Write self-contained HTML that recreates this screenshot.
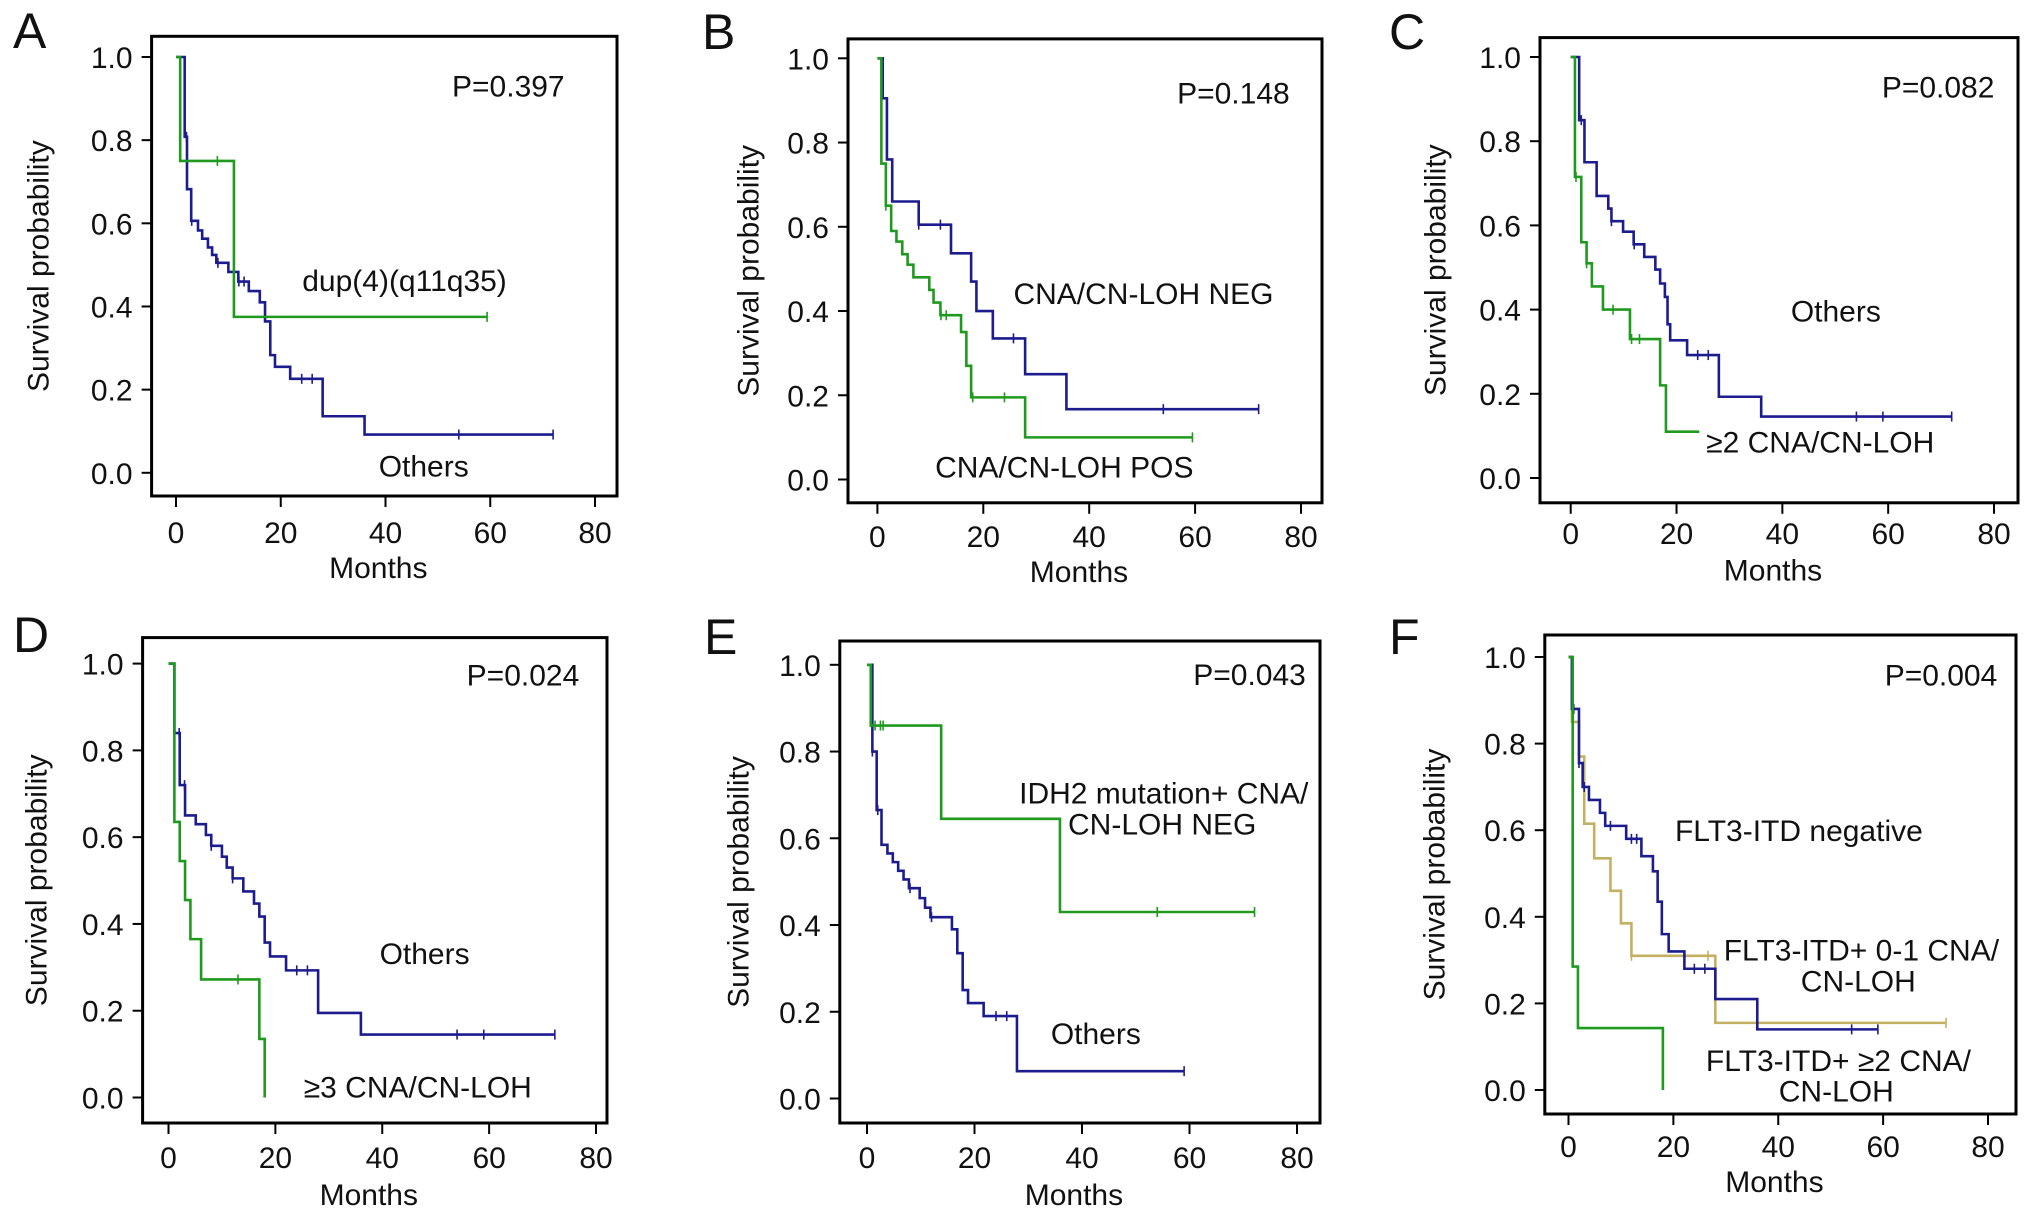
<!DOCTYPE html>
<html><head><meta charset="utf-8">
<style>
html,body{margin:0;padding:0;background:#fff;}
svg{display:block;}
text{font-family:"Liberation Sans",Arial,sans-serif;fill:#111;}
</style></head>
<body>
<svg id="fig" width="2032" height="1218" viewBox="0 0 2032 1218"></svg>
<script>
// ---------- DATA ----------
// Panel A
const A_blue_t = [1.66,2.1,2.9,4.2,5,6.1,6.9,7.7,10,11.9,13.9,16,17,18,18.9,21.8,28,36];
const A_blue_s = [0.808,0.682,0.606,0.583,0.563,0.542,0.524,0.505,0.483,0.46,0.437,0.41,0.364,0.283,0.255,0.226,0.136,0.092];
const A_blue_end = 72;
const A_blue_c = [2,3,8,12,13,24,26,54,72];
const A_green_t = [0.8,11.06];
const A_green_s = [0.75,0.375];
const A_green_end = 59.4;
const A_green_c = [7.9,59.4];
// Panel B
const B_blue_t = [1,1.8,2.8,7.8,13.9,17.7,18.7,21.8,27.9,35.7];
const B_blue_s = [0.905,0.76,0.66,0.605,0.537,0.47,0.40,0.335,0.25,0.167];
const B_blue_end = 72;
const B_blue_c = [7.8,11.9,25.7,54,72];
const B_green_t = [0.75,1.6,2.6,3.6,4.7,5.7,6.8,9.8,10.6,11.9,15.8,16.8,17.7,27.9];
const B_green_s = [0.75,0.65,0.59,0.565,0.535,0.51,0.48,0.45,0.42,0.39,0.35,0.27,0.195,0.10];
const B_green_end = 59.5;
const B_green_c = [1.6,12,13,18,24,59.5];
// Panel C
const C_blue_t = [1.6,2.6,4.9,7.1,7.7,9.9,11.9,13.9,16,16.9,17.8,18.3,18.8,22,28,36];
const C_blue_s = [0.85,0.75,0.67,0.64,0.61,0.585,0.555,0.525,0.495,0.462,0.43,0.365,0.327,0.292,0.193,0.146];
const C_blue_end = 72;
const C_blue_c = [2,7.7,12,24,26,54,59,72];
const C_green_t = [0.8,2,3,4,6.1,11.2,16.9,18];
const C_green_s = [0.715,0.56,0.51,0.455,0.40,0.33,0.22,0.11];
const C_green_end = 24.3;
const C_green_c = [1,3,8,11.5,13];
// Panel D
const D_blue_t = [1.1,2.1,3.1,5.1,7,8,10,10.9,12,14,16,17,18,19,22,28,36];
const D_blue_s = [0.84,0.72,0.65,0.63,0.605,0.58,0.555,0.53,0.505,0.475,0.447,0.417,0.357,0.325,0.293,0.195,0.145];
const D_blue_end = 72.3;
const D_blue_c = [2,3,8,12,24,26,54,59,72.3];
const D_green_t = [1.1,2.1,3.1,4.1,6.1,17,18];
const D_green_s = [0.635,0.545,0.455,0.365,0.272,0.135,0.0];
const D_green_end = 18;
const D_green_c = [13];
// Panel E
const E_green_t = [0.7,13.8,35.9];
const E_green_s = [0.86,0.645,0.43];
const E_green_end = 72.1;
const E_green_c = [1.5,2.5,3,54,72.1];
const E_blue_t = [1,1.8,2.7,3.8,4.8,5.8,6.8,7.8,9.8,10.8,11.8,15.8,16.8,17.8,18.8,21.7,27.9];
const E_blue_s = [0.80,0.665,0.585,0.565,0.545,0.525,0.505,0.485,0.462,0.44,0.418,0.39,0.335,0.25,0.22,0.19,0.063];
const E_blue_end = 59;
const E_blue_c = [1,2,8,12,24,26,59];
// Panel F
const F_blue_t = [0.65,2,2.7,3.9,6,7,11,13.9,16.1,17,17.8,19.1,22.1,28,36];
const F_blue_s = [0.88,0.755,0.70,0.67,0.64,0.61,0.58,0.54,0.505,0.435,0.36,0.32,0.28,0.21,0.14];
const F_blue_end = 59;
const F_blue_c = [1,2,3,8,12,13,24,26,54,59];
const F_khaki_t = [0.65,2,3,4.9,8,10,12,28];
const F_khaki_s = [0.85,0.77,0.615,0.535,0.46,0.385,0.31,0.155];
const F_khaki_end = 72;
const F_khaki_c = [12,26.6,72];
const F_green_t = [0.8,1.8,18];
const F_green_s = [0.285,0.143,0.0];
const F_green_end = 18;
const F_green_c = [];

const xTicks = [0,20,40,60,80];
const yTicks = [0,0.2,0.4,0.6,0.8,1.0];
const yTickLabels = ["0.0","0.2","0.4","0.6","0.8","1.0"];

// ---------- LAYOUT ----------
const BLUE="#1c1c8f", GREEN="#1f9a1f", KHAKI="#c4b062";
const panels = [
 {id:"a", letter:"A", lx:13, ly:48, box:[151.6,36.3,617,496], x0:176, x80:595, y1:57, y0:472.8, tb:543, mb:578, ytx:39, p:"P=0.397", pm:[52.7,0.905],
  series:[[A_blue_t,A_blue_s,A_blue_end,A_blue_c,BLUE,"others"],[A_green_t,A_green_s,A_green_end,A_green_c,GREEN,"dup4"]],
  notes:[["dup(4)(q11q35)",24.1,0.437],["Others",38.7,-0.009]]},
 {id:"b", letter:"B", lx:702, ly:49, box:[848,38.9,1322,502.8], x0:877.4, x80:1301, y1:58.3, y0:479.5, tb:547, mb:582, ytx:749, p:"P=0.148", pm:[56.6,0.893],
  series:[[B_blue_t,B_blue_s,B_blue_end,B_blue_c,BLUE,"neg"],[B_green_t,B_green_s,B_green_end,B_green_c,GREEN,"pos"]],
  notes:[["CNA/CN-LOH NEG",25.7,0.417],["CNA/CN-LOH POS",10.9,0.005]]},
 {id:"c", letter:"C", lx:1389, ly:49, box:[1540,37.6,2018,502.8], x0:1570.7, x80:1994, y1:57, y0:478, tb:544, mb:580.6, ytx:1436, p:"P=0.082", pm:[58.8,0.904],
  series:[[C_blue_t,C_blue_s,C_blue_end,C_blue_c,BLUE,"others"],[C_green_t,C_green_s,C_green_end,C_green_c,GREEN,"ge2"]],
  notes:[["Others",41.6,0.372],["\u22652 CNA/CN-LOH",25.6,0.06]]},
 {id:"d", letter:"D", lx:13, ly:652, box:[142.6,637.6,607,1123], x0:168.5, x80:596, y1:663.6, y0:1097.5, tb:1168, mb:1205, ytx:37, p:"P=0.024", pm:[55.8,0.95],
  series:[[D_blue_t,D_blue_s,D_blue_end,D_blue_c,BLUE,"others"],[D_green_t,D_green_s,D_green_end,D_green_c,GREEN,"ge3"]],
  notes:[["Others",39.5,0.3075],["\u22653 CNA/CN-LOH",25.3,0.0]]},
 {id:"e", letter:"E", lx:704, ly:654, box:[839.8,641,1320,1123], x0:867, x80:1297, y1:664.8, y0:1098.5, tb:1168, mb:1205, ytx:739, p:"P=0.043", pm:[60.7,0.953],
  series:[[E_blue_t,E_blue_s,E_blue_end,E_blue_c,BLUE,"others"],[E_green_t,E_green_s,E_green_end,E_green_c,GREEN,"idh2"]],
  notes:[["IDH2 mutation+ CNA/",28.3,0.68],["CN-LOH NEG",37.4,0.609],["Others",34.2,0.1255]]},
 {id:"f", letter:"F", lx:1389, ly:654, box:[1544.8,635,2016,1114], x0:1568.5, x80:1988, y1:657, y0:1090, tb:1157, mb:1192, ytx:1435, p:"P=0.004", pm:[60.3,0.934],
  series:[[F_khaki_t,F_khaki_s,F_khaki_end,F_khaki_c,KHAKI,"flt3-01"],[F_blue_t,F_blue_s,F_blue_end,F_blue_c,BLUE,"flt3-neg"],[F_green_t,F_green_s,F_green_end,F_green_c,GREEN,"flt3-ge2"]],
  notes:[["FLT3-ITD negative",20.3,0.5745],["FLT3-ITD+ 0-1 CNA/",29.6,0.299],["CN-LOH",44.3,0.228],["FLT3-ITD+ \u22652 CNA/",26.2,0.044],["CN-LOH",40.1,-0.027]]}
];

const NS="http://www.w3.org/2000/svg";
const svg=document.getElementById("fig");
function mk(tag,attrs,parent){const e=document.createElementNS(NS,tag);for(const k in attrs)e.setAttribute(k,attrs[k]);(parent||svg).appendChild(e);return e;}

panels.forEach(P=>{
  const g=mk("g",{});
  
  
  const xs=m=>P.x0+(P.x80-P.x0)*m/80;
  const ys=v=>P.y0-(P.y0-P.y1)*v;
  const [bl,bt,br,bb]=P.box;
  const L=mk("text",{x:P.lx,y:P.ly,"font-size":50},g); L.textContent=P.letter;
  
  
  const B=mk("rect",{x:bl,y:bt,width:br-bl,height:bb-bt,fill:"none",stroke:"#000","stroke-width":3},g);
  
  
  yTicks.forEach((v,i)=>{
    mk("line",{x1:bl-10,x2:bl,y1:ys(v),y2:ys(v),stroke:"#000","stroke-width":2},g);
    const t=mk("text",{x:bl-19,y:ys(v)+11,"font-size":30,"text-anchor":"end"},g); t.textContent=yTickLabels[i];
    
    
  });
  xTicks.forEach(m=>{
    mk("line",{x1:xs(m),x2:xs(m),y1:bb,y2:bb+11,stroke:"#000","stroke-width":2},g);
    const t=mk("text",{x:xs(m),y:P.tb,"font-size":30,"text-anchor":"middle"},g); t.textContent=String(m);
    
    
  });
  const xt=mk("text",{x:(bl+br)/2-6,y:P.mb,"font-size":30,"text-anchor":"middle"},g); xt.textContent="Months";
  
  
  const cy=(bt+bb)/2, cx=P.ytx;
  const yt=mk("text",{x:cx,y:cy,"font-size":30,"text-anchor":"middle","dominant-baseline":"central",transform:`rotate(-90 ${cx} ${cy})`},g); yt.textContent="Survival probability";
  
  
  P.series.forEach(([T,S,end,C,col,nm])=>{
    let d=`M${xs(0)},${ys(1)}`;
    T.forEach((t,i)=>{d+=` H${xs(t)} V${ys(S[i])}`;});
    d+=` H${xs(end)}`;
    const p=mk("path",{d:d,fill:"none",stroke:col,"stroke-width":2.6},g);
    
    
    C.forEach(c=>{
      let v=1; T.forEach((t,i)=>{if(t<=c)v=S[i];});
      const m=mk("line",{x1:xs(c),x2:xs(c),y1:ys(v)-5,y2:ys(v)+5,stroke:col,"stroke-width":1.6},g);
      
      
    });
  });
  const pt=mk("text",{x:xs(P.pm[0]),y:ys(P.pm[1]),"font-size":30},g); pt.textContent=P.p;
  
  
  P.notes.forEach(([s,m,v])=>{
    const t=mk("text",{x:xs(m),y:ys(v),"font-size":30},g); t.textContent=s;
    
    
  });
});
</script>
</body></html>
